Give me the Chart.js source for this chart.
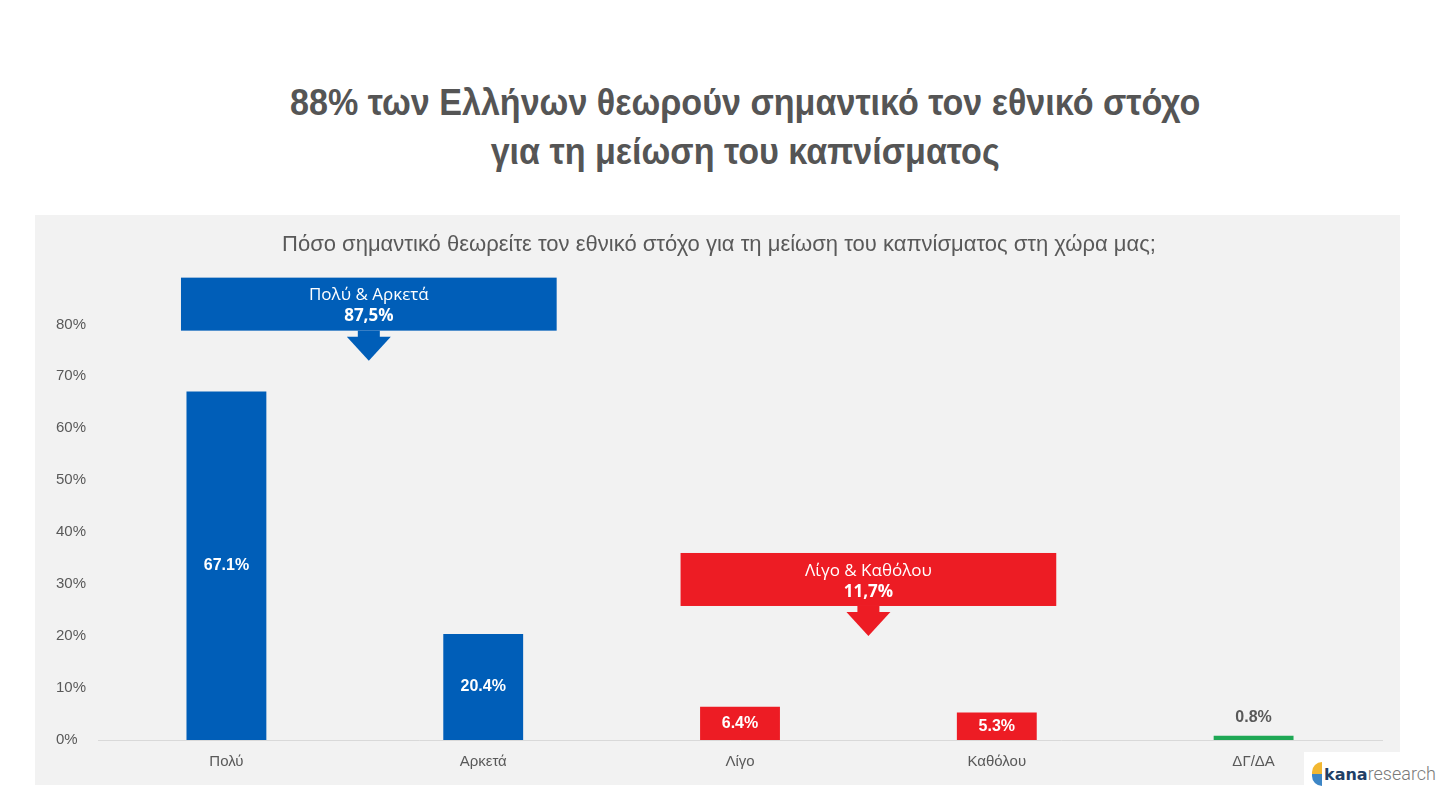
<!DOCTYPE html>
<html>
<head>
<meta charset="utf-8">
<script src="https://cdn.jsdelivr.net/npm/chart.js@4.4.1/dist/chart.umd.min.js"></script>
<style>
    html, body { margin: 0; padding: 0; background: #fff; }
    body { width: 1449px; height: 796px; position: relative; overflow: hidden; font-family: "Liberation Sans", Arial, sans-serif; }
    .title { position: absolute; left: 0; top: 78px; width: 1490px; text-align: center; color: #555; font-weight: bold; font-size: 36px; line-height: 49px; transform: scaleX(0.947); transform-origin: 748px 0; }
    .panel { position: absolute; left: 35px; top: 215px; width: 1365px; height: 570px; background: #f2f2f2; }
    .logo { position: absolute; left: 1304px; top: 752px; width: 145px; height: 44px; background: #fff; }
    .logo-icon { position: absolute; left: 8px; top: 10px; width: 10px; height: 24px; }
    .logo-icon .top { position: absolute; left: 0; top: 0; width: 10px; height: 12px; background: #f2b731; border-radius: 10px 0 0 0; }
    .logo-icon .bot { position: absolute; left: 0; top: 12px; width: 10px; height: 12px; background: #3d86c6; border-radius: 0 0 0 10px; }
    .logo-text { position: absolute; left: 20px; top: 9px; line-height: 26px; white-space: nowrap; }
    .logo-text b { color: #1f3f66; font-family: "DejaVu Sans", sans-serif; font-weight: bold; font-size: 16px; }
    .logo-text span { color: #7a7a7a; font-family: "Roboto", sans-serif; font-weight: 300; font-size: 18px; }
</style>
</head>
<body>
<div class="title">88% των Ελλήνων θεωρούν σημαντικό τον εθνικό στόχο<br>για τη μείωση του καπνίσματος</div>
<div class="panel"><canvas id="survey_chart" width="1365" height="570"></canvas></div>
<div class="logo">
    <div class="logo-icon"><div class="top"></div><div class="bot"></div></div>
    <div class="logo-text"><b>kana</b><span>research</span></div>
</div>
<script>
const categories = ["Πολύ", "Αρκετά", "Λίγο", "Καθόλου", "ΔΓ/ΔΑ"];
const values = [67.1, 20.4, 6.4, 5.3, 0.8];
const barColors = ["#005eb8", "#005eb8", "#ed1c24", "#ed1c24", "#1fa855"];
const yTicks = [0, 10, 20, 30, 40, 50, 60, 70, 80];

const groupNames = ["Πολύ & Αρκετά", "Λίγο & Καθόλου"];
const groupTotals = ["87,5%", "11,7%"];
const groupMembers = [[0, 1], [2, 3]];
const groupColors = ["#005eb8", "#ed1c24"];

// value labels: white inside tall bars, grey above short ones
const barLabels = {
    id: 'barLabels',
    afterDatasetsDraw(chart) {
        const ctx = chart.ctx;
        const meta = chart.getDatasetMeta(0);
        ctx.save();
        ctx.textAlign = 'center';
        ctx.textBaseline = 'middle';
        ctx.font = "bold 16px 'Liberation Sans', Arial, sans-serif";
        meta.data.forEach((bar, i) => {
            const txt = values[i].toFixed(1) + '%';
            const h = bar.base - bar.y;
            if (h > 20) {
                ctx.fillStyle = '#fff';
                ctx.fillText(txt, bar.x, (bar.y + bar.base) / 2);
            } else {
                ctx.fillStyle = '#595959';
                ctx.fillText(txt, bar.x, bar.y - 18);
            }
        });
        ctx.restore();
    }
};

// group callout boxes with a down arrow
const callouts = {
    id: 'callouts',
    afterDraw(chart, args, opts) {
        const ctx = chart.ctx;
        const xs = chart.scales.x;
        const ys = chart.scales.y;
        const step = xs.getPixelForValue(1) - xs.getPixelForValue(0);
        ctx.save();
        groupMembers.forEach((members, g) => {
            const cx = (xs.getPixelForValue(members[0]) + xs.getPixelForValue(members[members.length - 1])) / 2 + opts.shift[g];
            const w = step * 1.463;
            const top = ys.getPixelForValue(opts.top[g]);
            const h = 53;
            ctx.fillStyle = groupColors[g];
            ctx.fillRect(cx - w / 2, top, w, h);
            const b = top + h;
            ctx.fillRect(cx - 11, b, 22, 7);
            ctx.beginPath();
            ctx.moveTo(cx - 22, b + 6);
            ctx.lineTo(cx + 22, b + 6);
            ctx.lineTo(cx, b + 30);
            ctx.closePath();
            ctx.fill();
            ctx.fillStyle = '#fff';
            ctx.textAlign = 'center';
            ctx.textBaseline = 'middle';
            ctx.font = "17px 'Open Sans', sans-serif";
            ctx.fillText(groupNames[g], cx, top + 18);
            ctx.font = "bold 17px 'Open Sans', sans-serif";
            ctx.fillText(groupTotals[g], cx, top + 39);
        });
        ctx.restore();
    }
};

const ctx = document.getElementById('survey_chart').getContext('2d');
new Chart(ctx, {
    type: 'bar',
    data: {
        labels: categories,
        datasets: [{
            data: values,
            backgroundColor: barColors,
            borderWidth: 0,
            categoryPercentage: 1,
            barPercentage: 0.311
        }]
    },
    options: {
        responsive: false,
        animation: false,
        layout: { padding: { left: 21, right: 18, top: 1, bottom: 1 } },
        plugins: {
            legend: { display: false },
            tooltip: { enabled: false },
            title: {
                display: true,
                text: 'Πόσο σημαντικό θεωρείτε τον εθνικό στόχο για τη μείωση του καπνίσματος στη χώρα μας;',
                color: '#595959',
                font: { size: 22, family: "'Liberation Sans', Arial, sans-serif", weight: 'normal' },
                padding: { top: 16, bottom: 66 }
            },
            callouts: { top: [89, 36], shift: [14, 0] }
        },
        scales: {
            x: {
                grid: { display: false, drawTicks: false },
                border: { display: true, color: '#d9d9d9', width: 1 },
                ticks: {
                    color: '#595959',
                    padding: 13,
                    font: { size: 15, family: "'Liberation Sans', Arial, sans-serif" }
                }
            },
            y: {
                min: 0,
                max: 80,
                afterBuildTicks(scale) { scale.ticks = yTicks.map(v => ({ value: v })); },
                grid: { display: false, drawTicks: false },
                border: { display: false },
                ticks: {
                    color: '#595959',
                    padding: 6,
                    crossAlign: 'far',
                    font: { size: 15, family: "'Liberation Sans', Arial, sans-serif" },
                    callback: v => v + '%'
                }
            }
        }
    },
    plugins: [barLabels, callouts]
});
</script>
</body>
</html>
